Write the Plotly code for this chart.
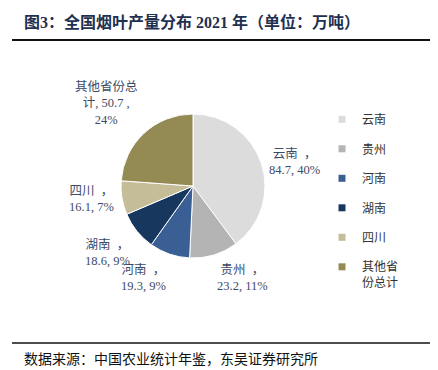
import math
import plotly.graph_objects as go

labels = ["云南", "贵州", "河南", "湖南", "四川", "其他省份总计"]
legend_labels = ["云南", "贵州", "河南", "湖南", "四川", "其他省<br>份总计"]
values = [84.7, 23.2, 19.3, 18.6, 16.1, 50.7]
percents = ["40%", "11%", "9%", "9%", "7%", "24%"]
colors = ["#dcdcdc", "#b4b4b4", "#3a5f94", "#17375e", "#c4bd97", "#948a54"]

# page body has an 8px default margin: draw in a 430x362 figure offset by 8px
OFF = 8
W, H = 438 - OFF, 370 - OFF


def fx(x):
    return (x - OFF) / W


def fy(y):
    return 1 - (y - OFF) / H


CX, CY, R = 193, 186, 72   # pie centre / radius in page pixels
GAP = 7

texts = [f"{l}  ，<br>{v}, {p}" for l, v, p in zip(labels, values, percents)]
texts[-1] = f"其他省份总<br>计, {values[-1]} ,<br>{percents[-1]}"

fig = go.Figure()
fig.add_trace(go.Pie(
    labels=labels,
    values=values,
    textinfo="none",
    sort=False,
    direction="clockwise",
    rotation=0,
    showlegend=False,
    marker=dict(colors=colors, line=dict(color="white", width=1)),
    domain=dict(x=[fx(CX - R), fx(CX + R)], y=[fy(CY + R), fy(CY - R)]),
    hoverinfo="skip",
))

for i, (lab, col) in enumerate(zip(legend_labels, colors)):
    fig.add_trace(go.Scatter(
        x=[None], y=[None], mode="markers", name=lab,
        marker=dict(symbol="square", size=7, color=col),
        legendgroup=f"g{i}", showlegend=True,
    ))

# data labels placed just outside each slice, from the slice's mid angle
annotations = []
total = sum(values)
cum = 0.0
for v, t in zip(values, texts):
    mid = (cum + v / 2) / total * 2 * math.pi
    cum += v
    s, c = math.sin(mid), math.cos(mid)
    px = CX + (R + GAP) * s
    py = CY - (R + GAP) * c
    xa = "left" if s > 0.2 else ("right" if s < -0.2 else "center")
    ya = "bottom" if c > 0.5 else ("top" if c < -0.5 else "middle")
    annotations.append(dict(
        text=t, xref="paper", yref="paper", x=fx(px), y=fy(py),
        xanchor=xa, yanchor=ya, align="center", showarrow=False, borderpad=0,
        font=dict(family="Liberation Serif, Noto Sans CJK SC", size=12.5, color="#3d4b68"),
    ))

annotations += [
    dict(text="<b>图3：全国烟叶产量分布 2021 年（单位：万吨）</b>", xref="paper", yref="paper",
         x=fx(22), y=fy(22), xanchor="left", yanchor="middle", showarrow=False,
         font=dict(family="Liberation Serif, Noto Sans CJK SC", size=16, color="#1f3050")),
    dict(text="数据来源：中国农业统计年鉴，东吴证券研究所", xref="paper", yref="paper",
         x=fx(22), y=fy(370), xanchor="left", yanchor="bottom", showarrow=False,
         font=dict(family="Noto Sans CJK SC", size=14, color="#111111")),
]

fig.update_layout(
    width=W, height=H,
    margin=dict(l=0, r=0, t=0, b=0),
    paper_bgcolor="white",
    plot_bgcolor="white",
    xaxis=dict(visible=False),
    yaxis=dict(visible=False),
    showlegend=True,
    legend=dict(x=fx(322), y=fy(105), xanchor="left", yanchor="top",
                font=dict(family="Noto Sans CJK SC", size=12, color="#333333"),
                itemwidth=30, tracegroupgap=10.5, traceorder="grouped", valign="top",
                bgcolor="rgba(0,0,0,0)"),
    shapes=[
        dict(type="line", xref="paper", yref="paper", x0=fx(12), x1=fx(430),
             y0=fy(40), y1=fy(40), line=dict(color="#111111", width=2)),
        dict(type="line", xref="paper", yref="paper", x0=fx(12), x1=fx(430),
             y0=fy(343), y1=fy(343), line=dict(color="#111111", width=1.5)),
    ],
    annotations=annotations,
)

fig.write_html("out.html")
